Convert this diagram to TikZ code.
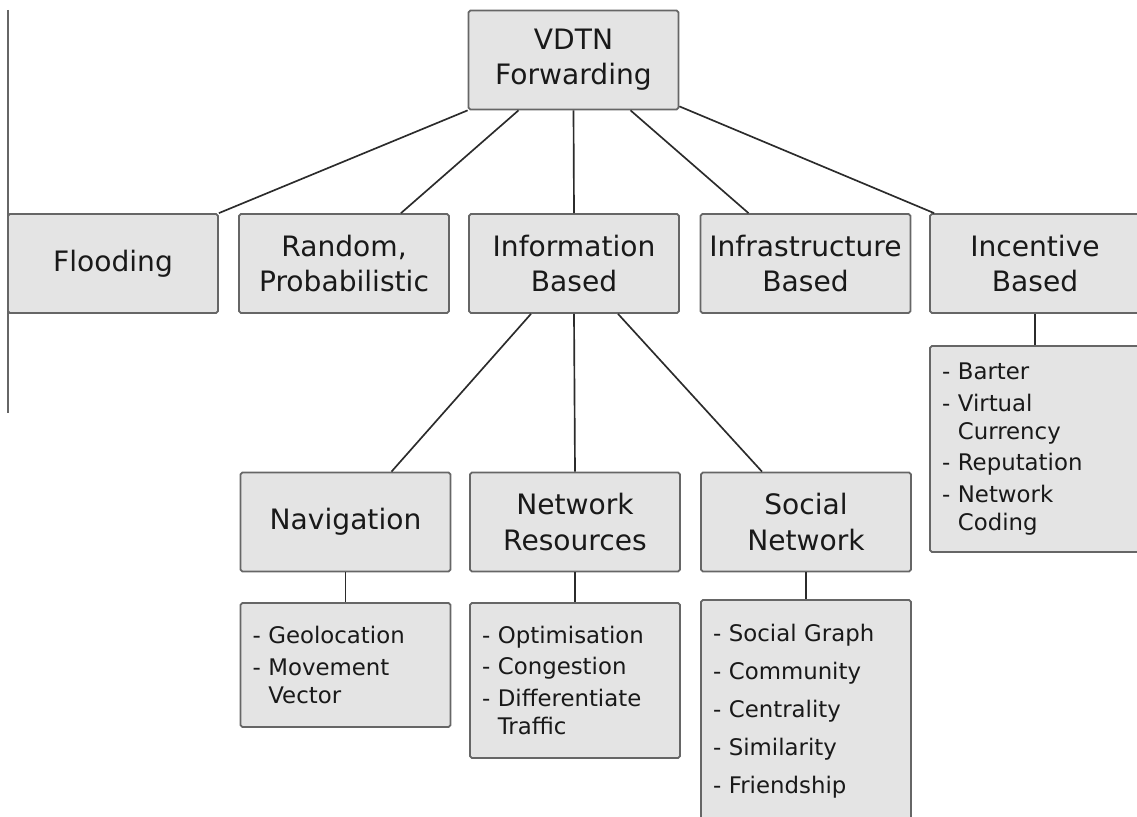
\documentclass[tikz,border=0pt]{standalone}
\usepackage{fontspec}
\setmainfont{DejaVu Sans}
\usetikzlibrary{calc}
\definecolor{boxfill}{HTML}{E4E4E4}
\definecolor{boxline}{HTML}{666666}
\definecolor{linkline}{HTML}{2B2B2B}
\tikzset{
  catbox/.style={draw=boxline, fill=boxfill, line width=1pt, rounded corners=1pt,
    minimum width=4.2cm, minimum height=1.98cm, align=center, text=black!90,
    font=\fontsize{16}{20}\selectfont},
  listbox/.style={catbox, align=left, inner xsep=0.24cm, text width=3.72cm,
    font=\fontsize{13}{16}\selectfont},
  link/.style={draw=linkline, line width=0.95pt}
}

\begin{document}
\begin{tikzpicture}[x=0.02cm, y=-0.02cm]
  \useasboundingbox (0,0) rectangle (1137,817);
  % margin rule on the left
  \coordinate (edgetop) at (8,10);
  \coordinate (edgebot) at (8,413);
  \draw[boxline, line width=1pt] (edgetop) -- (edgebot);
  % root and first level
  \node[catbox] (top) at (573.5,60) {VDTN\\Forwarding};
  \foreach \n/\x/\txt in {flood/113/Flooding, rand/344/{Random,\\Probabilistic},
      info/574/{Information\\Based}, infra/805.5/{Infrastructure\\Based},
      incent/1035/{Incentive\\Based}}
    \node[catbox] (\n) at (\x,263.5) {\txt};
  % second level
  \foreach \n/\x/\txt in {nav/345.5/Navigation, netres/575/{Network\\Resources},
      social/806/{Social\\Network}}
    \node[catbox] (\n) at (\x,522) {\txt};
  % lists
  \node[listbox, minimum height=2.48cm] (navlist) at (345.5,665)
    {- Geolocation\\[2pt] - Movement\\ \hphantom{- }Vector};
  \node[listbox, minimum height=3.1cm] (reslist) at (575,680.5)
    {- Optimisation\\[2pt] - Congestion\\[2pt] - Differentiate\\ \hphantom{- }Traffic};
  \node[listbox, minimum height=4.44cm] (soclist) at (806,711)
    {- Social Graph\\[5.6pt] - Community\\[5.6pt] - Centrality\\[5.6pt] - Similarity\\[5.6pt] - Friendship};
  \node[listbox, minimum height=4.12cm] (inclist) at (1035,449)
    {- Barter\\[2pt] - Virtual\\ \hphantom{- }Currency\\[2pt] - Reputation\\[2pt] - Network\\ \hphantom{- }Coding};
  % connectors
  \draw[link] (top.south west) -- (flood.north east);
  \draw[link] ($(top.south)+(-55,0)$) -- ($(rand.north)+(57,0)$);
  \draw[link] (top.south) -- (info.north);
  \draw[link] ($(top.south)+(57,0)$) -- ($(infra.north)+(-57,0)$);
  \draw[link] ($(top.south east)+(0,-4)$) -- ($(incent.north west)+(5,0)$);
  \draw[link] ($(info.south)+(-43,0)$) -- ($(nav.north)+(46,0)$);
  \draw[link] (info.south) -- (netres.north);
  \draw[link] ($(info.south)+(44,0)$) -- ($(social.north)+(-44,0)$);
  \foreach \a/\b in {nav/navlist, netres/reslist, social/soclist, incent/inclist}
    \draw[link] (\a.south) -- (\b.north);
\end{tikzpicture}
\end{document}
